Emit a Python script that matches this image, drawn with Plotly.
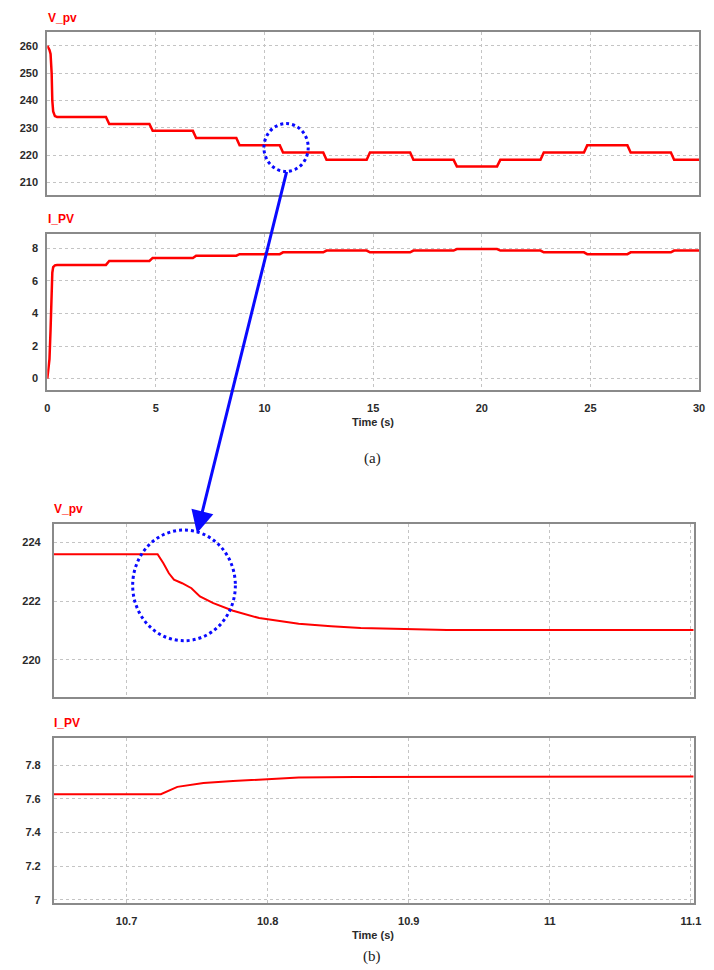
import plotly.graph_objects as go

W, H = 714, 970

# ---------------- data ----------------
# (a) full 0-30 s run: start-up transient then MPPT step changes
start_t = [0.0, 0.1, 0.15, 0.2, 0.23, 0.27, 0.35, 0.45]
start_v = [260.0, 258.5, 257.0, 250.0, 240.0, 236.0, 234.3, 234.0]
start_i = [0.0, 1.2, 3.0, 5.5, 6.5, 6.85, 6.95, 6.98]

switch_t = [2.7, 4.7, 6.7, 8.7, 10.7, 12.7, 14.7, 16.7, 18.7, 20.7, 22.7, 24.7, 26.7, 28.7]
v_levels = [234.0, 231.4, 228.9, 226.3, 223.6, 221.0, 218.3, 221.0, 218.3, 215.9,
            218.3, 221.0, 223.6, 221.0, 218.3]
i_levels = [6.98, 7.22, 7.41, 7.55, 7.64, 7.75, 7.86, 7.75, 7.86, 7.95,
            7.86, 7.75, 7.64, 7.75, 7.86]
t_end = 30.0

# (b) zoom 10.65-11.1 s
zv_t = [10.6485, 10.722, 10.726, 10.730, 10.7336, 10.7394, 10.746, 10.752, 10.7615,
        10.7755, 10.794, 10.822, 10.845, 10.866, 10.897, 10.927, 11.102]
zv_v = [223.6, 223.6, 223.3, 222.95, 222.73, 222.61, 222.44, 222.16, 221.93,
        221.67, 221.42, 221.23, 221.14, 221.08, 221.05, 221.01, 221.01]
zi_t = [10.6485, 10.7243, 10.736, 10.743, 10.7545, 10.7755, 10.799, 10.822, 10.862, 11.102]
zi_i = [7.628, 7.628, 7.672, 7.68, 7.695, 7.707, 7.719, 7.727, 7.731, 7.733]


def build_steps(t0, y0, levels):
    ramp = 0.15
    t, y = list(t0), list(y0)
    for k, ts in enumerate(switch_t):
        t += [ts, ts + ramp]
        y += [levels[k], levels[k + 1]]
    t.append(t_end)
    y.append(levels[-1])
    return t, y


v_t, v_v = build_steps(start_t, start_v, v_levels)
i_t, i_i = build_steps(start_t, start_i, i_levels)

RED = "#ff0000"
BLUE = "#0a0aff"
TICKFONT = dict(family="Liberation Sans Narrow, Liberation Sans, Arial", size=11, color="#2a2a2a", weight="bold")


def px(x):
    return x / W


def py(y):
    return 1 - y / H


fig = go.Figure()
fig.add_trace(go.Scatter(x=v_t, y=v_v, mode="lines", line=dict(color=RED, width=2.5), xaxis="x", yaxis="y"))
fig.add_trace(go.Scatter(x=i_t, y=i_i, mode="lines", line=dict(color=RED, width=2.5), xaxis="x2", yaxis="y2"))
fig.add_trace(go.Scatter(x=zv_t, y=zv_v, mode="lines", line=dict(color=RED, width=2), xaxis="x3", yaxis="y3"))
fig.add_trace(go.Scatter(x=zi_t, y=zi_i, mode="lines", line=dict(color=RED, width=2), xaxis="x4", yaxis="y4"))

common = dict(showline=True, mirror=True, linecolor="#8a8a8a", linewidth=2,
              showgrid=True, gridcolor="#c4c4c4", griddash="dot", gridwidth=1,
              zeroline=False, ticks="", tickfont=TICKFONT)

dA = [px(45), px(707)]
dB = [px(51.7), px(701.5)]

fig.update_layout(
    width=W, height=H, margin=dict(l=0, r=0, t=0, b=0),
    paper_bgcolor="white", plot_bgcolor="white", showlegend=False,
    xaxis=dict(domain=dA, range=[0, 30], dtick=5, showticklabels=False, anchor="y", **common),
    yaxis=dict(domain=[py(196), py(32)], range=[205.3, 265.1], dtick=10, anchor="x",
               ticklabelstandoff=5, **common),
    xaxis2=dict(domain=dA, range=[0, 30], dtick=5, anchor="y2", ticklabelstandoff=6, **common),
    yaxis2=dict(domain=[py(391.7), py(234.7)], range=[-0.73, 8.88], dtick=2, anchor="x2",
                ticklabelstandoff=5, **common),
    xaxis3=dict(domain=dB, range=[10.6485, 11.102], tickvals=[10.7, 10.8, 10.9, 11.0, 11.1],
                showticklabels=False, anchor="y3", **common),
    yaxis3=dict(domain=[py(699.3), py(526)], range=[218.72, 224.62], tickvals=[220, 222, 224],
                anchor="x3", ticklabelstandoff=9, **common),
    xaxis4=dict(domain=dB, range=[10.6485, 11.102], tickvals=[10.7, 10.8, 10.9, 11.0, 11.1],
                ticktext=["10.7", "10.8", "10.9", "11", "11.1"], anchor="y4",
                ticklabelstandoff=7, **common),
    yaxis4=dict(domain=[py(905.7), py(740.7)], range=[6.982, 7.96],
                tickvals=[7.0, 7.2, 7.4, 7.6, 7.8], ticktext=["7", "7.2", "7.4", "7.6", "7.8"],
                anchor="x4", ticklabelstandoff=9, **common),
)

TITLEFONT = dict(family="Liberation Sans Narrow, Liberation Sans, Arial", size=12, color=RED, weight="bold")
LBLFONT = dict(family="Liberation Sans Narrow, Liberation Sans, Arial", size=11, color="#2a2a2a", weight="bold")
SERIF = dict(family="Liberation Serif, Times New Roman", size=15, color="#222222")

ann = []
for txt, x, y in [("V_pv", 44, 18), ("I_PV", 44, 220), ("V_pv", 50, 511), ("I_PV", 50, 725)]:
    ann.append(dict(text=txt, x=px(x), y=py(y), xref="paper", yref="paper",
                    xanchor="left", yanchor="middle", showarrow=False, font=TITLEFONT))
for y in [423, 938]:
    ann.append(dict(text="Time (s)", x=px(376), y=py(y), xref="paper", yref="paper",
                    xanchor="center", yanchor="middle", showarrow=False, font=LBLFONT))
for txt, y in [("(a)", 460), ("(b)", 959)]:
    ann.append(dict(text=txt, x=px(375), y=py(y), xref="paper", yref="paper",
                    xanchor="center", yanchor="middle", showarrow=False, font=SERIF))
# arrow from small circle (a) to big circle (b)
ann.append(dict(text="", x=px(197), y=py(535), xref="paper", yref="paper",
                ax=90, ay=-363, axref="pixel", ayref="pixel", showarrow=True,
                arrowhead=2, arrowsize=1.5, arrowwidth=3, arrowcolor=BLUE, standoff=0))
fig.update_layout(annotations=ann)

fig.update_layout(shapes=[
    dict(type="circle", xref="paper", yref="paper", x0=px(265), x1=px(310), y0=py(172), y1=py(124),
         line=dict(color=BLUE, width=3, dash="dot")),
    dict(type="circle", xref="paper", yref="paper", x0=px(131.7), x1=px(236), y0=py(642.7), y1=py(531.7),
         line=dict(color=BLUE, width=3, dash="dot")),
])

fig.write_html("out.html", config={"displayModeBar": False},
               post_script="document.body.style.margin='0';document.body.style.overflow='hidden';")
